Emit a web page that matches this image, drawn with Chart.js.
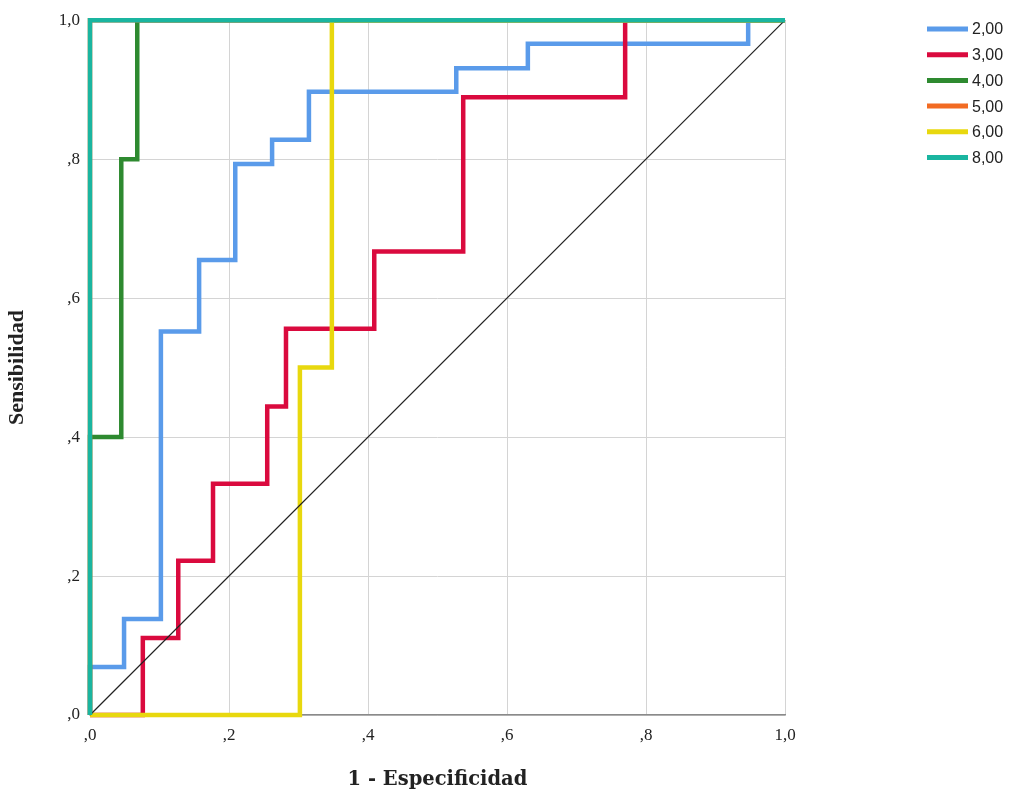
<!DOCTYPE html>
<html>
<head>
<meta charset="utf-8">
<script src="https://cdn.jsdelivr.net/npm/chart.js@4"></script>
<style>
  html, body { margin: 0; padding: 0; background: #fff; }
  #wrap { width: 1010px; height: 799px; }
</style>
</head>
<body>
<div id="wrap"><canvas id="rocChart"></canvas></div>
<script>
// ROC curves - 1 - Especificidad vs Sensibilidad
const seriesNames = ["2,00", "3,00", "4,00", "5,00", "6,00", "8,00"];
const seriesColors = ["#5A9BEA", "#DA0A3E", "#2E8A30", "#F26B22", "#E8D80E", "#1AB5A0"];

const fpr2 = [0, 0, 0.049, 0.102, 0.157, 0.209, 0.262, 0.315, 0.527, 0.63, 0.947, 1];
const tpr2 = [0, 0.069, 0.138, 0.552, 0.655, 0.793, 0.828, 0.897, 0.931, 0.966, 1, 1];
const fpr3 = [0, 0.076, 0.127, 0.177, 0.255, 0.282, 0.409, 0.537, 0.77, 1];
const tpr3 = [0, 0.111, 0.222, 0.333, 0.444, 0.556, 0.667, 0.889, 1, 1];
const fpr4 = [0, 0, 0.045, 0.068, 1];
const tpr4 = [0, 0.4, 0.8, 1, 1];
const fpr5 = [0, 0, 1];
const tpr5 = [0, 1, 1];
const fpr6 = [0, 0.302, 0.348, 1];
const tpr6 = [0, 0.5, 1, 1];
const fpr8 = [0, 0, 1];
const tpr8 = [0, 1, 1];
const refX = [0, 1];
const refY = [0, 1];

const curveX = [fpr2, fpr3, fpr4, fpr5, fpr6, fpr8];
const curveY = [tpr2, tpr3, tpr4, tpr5, tpr6, tpr8];
const drawOrder = [6, 5, 4, 3, 2, 0];

function pts(xs, ys) {
  return xs.map((x, i) => ({ x: x, y: ys[i] }));
}

function fmt(v) {
  let s = Number(v).toFixed(1).replace(".", ",");
  if (s.startsWith("0")) s = s.slice(1);
  return s;
}

const datasets = seriesNames.map((name, i) => ({
  label: name,
  data: pts(curveX[i], curveY[i]),
  borderColor: seriesColors[i],
  backgroundColor: seriesColors[i],
  borderWidth: 4.5,
  stepped: "before",
  pointRadius: 0,
  showLine: true,
  clip: false,
  order: drawOrder[i],
}));

datasets.push({
  label: "ref",
  data: pts(refX, refY),
  borderColor: "#222",
  borderWidth: 1.2,
  pointRadius: 0,
  showLine: true,
  clip: false,
  order: 1,
});

// legend drawn at the top right like the original
const legendPlugin = {
  id: "rocLegend",
  afterDraw(chart) {
    const ctx = chart.ctx;
    ctx.save();
    ctx.font = "16px 'Liberation Sans', Arial, sans-serif";
    ctx.textBaseline = "middle";
    seriesNames.forEach((name, i) => {
      const y = 29 + i * 25.7;
      ctx.strokeStyle = seriesColors[i];
      ctx.lineWidth = 5;
      ctx.beginPath();
      ctx.moveTo(927, y);
      ctx.lineTo(968, y);
      ctx.stroke();
      ctx.fillStyle = "#222";
      ctx.fillText(name, 972, y + 1);
    });
    ctx.restore();
  },
};

const ctx = document.getElementById("rocChart").getContext("2d");
const rocChart = new Chart(ctx, {
  type: "scatter",
  data: { datasets: datasets },
  options: {
    responsive: true,
    maintainAspectRatio: false,
    animation: false,
    layout: { padding: { top: 17, right: 225, left: 0, bottom: 0 } },
    plugins: {
      legend: { display: false },
      tooltip: { enabled: false },
    },
    scales: {
      x: {
        type: "linear",
        min: 0,
        max: 1,
        afterFit: (s) => { s.height = 84; },
        grid: { color: "#d4d4d4", lineWidth: 1, drawTicks: false },
        border: { color: "#8a8a8a", width: 1.5 },
        ticks: {
          stepSize: 0.2,
          padding: 10,
          color: "#222",
          font: { family: "'Liberation Serif', serif", size: 17 },
          callback: (v) => fmt(v),
        },
        title: {
          display: true,
          text: "1 - Especificidad",
          color: "#222",
          font: { family: "'DejaVu Serif', serif", size: 19.5, weight: "bold" },
          padding: { top: 0, bottom: 7 },
        },
      },
      y: {
        type: "linear",
        min: 0,
        max: 1,
        afterFit: (s) => { s.width = 90; },
        grid: { color: "#d4d4d4", lineWidth: 1, drawTicks: false },
        border: { display: false },
        ticks: {
          stepSize: 0.2,
          padding: 10,
          color: "#222",
          font: { family: "'Liberation Serif', serif", size: 17 },
          callback: (v) => fmt(v),
        },
        title: {
          display: true,
          text: "Sensibilidad",
          color: "#222",
          font: { family: "'Liberation Serif', serif", size: 22, weight: "bold" },
          padding: { top: 4, bottom: 0 },
        },
      },
    },
  },
  plugins: [legendPlugin],
});
</script>
</body>
</html>
